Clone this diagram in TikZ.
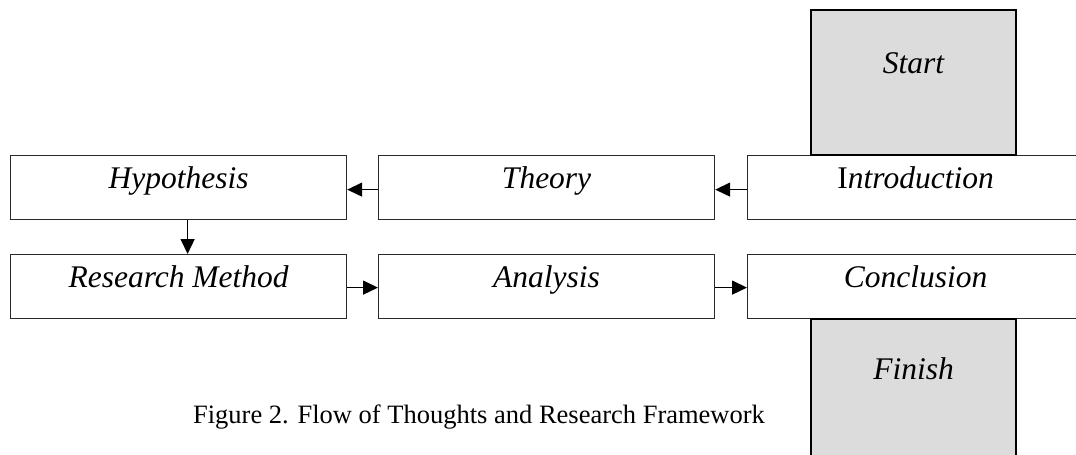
\documentclass[tikz,border=0pt]{standalone}
\usepackage{fontspec}
\setmainfont{Liberation Serif}
\usetikzlibrary{arrows.meta}
\definecolor{boxgray}{HTML}{DCDCDC}
\definecolor{edge}{HTML}{2A2A2A}
\begin{document}
\begin{tikzpicture}[x=1pt,y=-1pt,
  rowbox/.style={draw=edge,line width=1.2pt,fill=white,rectangle,anchor=north west,
    inner sep=0pt,minimum width=336pt,minimum height=64pt,text height=33pt,text depth=31pt,
    font=\fontsize{31.5}{36}\selectfont\itshape},
  endbox/.style={draw=black,line width=2pt,fill=boxgray,rectangle,anchor=north west,
    inner sep=0pt,minimum width=205pt,font=\fontsize{31.5}{36}\selectfont\itshape},
  flow/.style={line width=1.5pt,-{Triangle[length=15pt,width=14pt]}},
  captext/.style={font=\fontsize{26.5}{30}\selectfont,anchor=base,inner sep=0pt}]
\useasboundingbox (0,0) rectangle (1076,455);
\fill[white] (0,0) rectangle (1076,455);
\clip (0,0) rectangle (1076,455);

\node[rowbox] (hyp) at (10,155) {Hypothesis};
\node[rowbox] (theory) at (378,155) {Theory};
\node[rowbox] (intro) at (747,155) {{\upshape I}ntroduction};
\node[rowbox] (rm) at (10,254) {Research Method};
\node[rowbox] (ana) at (378,254) {Analysis};
\node[rowbox] (conc) at (747,254) {Conclusion};

\node[endbox,minimum height=145pt,text height=63pt,text depth=82pt] (start) at (810,9) {Start};
\node[endbox,minimum height=152pt,text height=60pt,text depth=92pt] (finish) at (810,318) {Finish};

\draw[flow] ([yshift=-2pt]intro.west) -- ([yshift=-2pt]theory.east);
\draw[flow] ([yshift=-2pt]theory.west) -- ([yshift=-2pt]hyp.east);
\draw[flow] ([xshift=9pt]hyp.south) -- ([xshift=9pt]rm.north);
\draw[flow] ([yshift=-1pt]rm.east) -- ([yshift=-1pt]ana.west);
\draw[flow] ([yshift=-1pt]ana.east) -- ([yshift=-1pt]conc.west);

\node[captext] (cap) at (479,423) {Figure 2. Flow of Thoughts and Research Framework};
\end{tikzpicture}
\end{document}
